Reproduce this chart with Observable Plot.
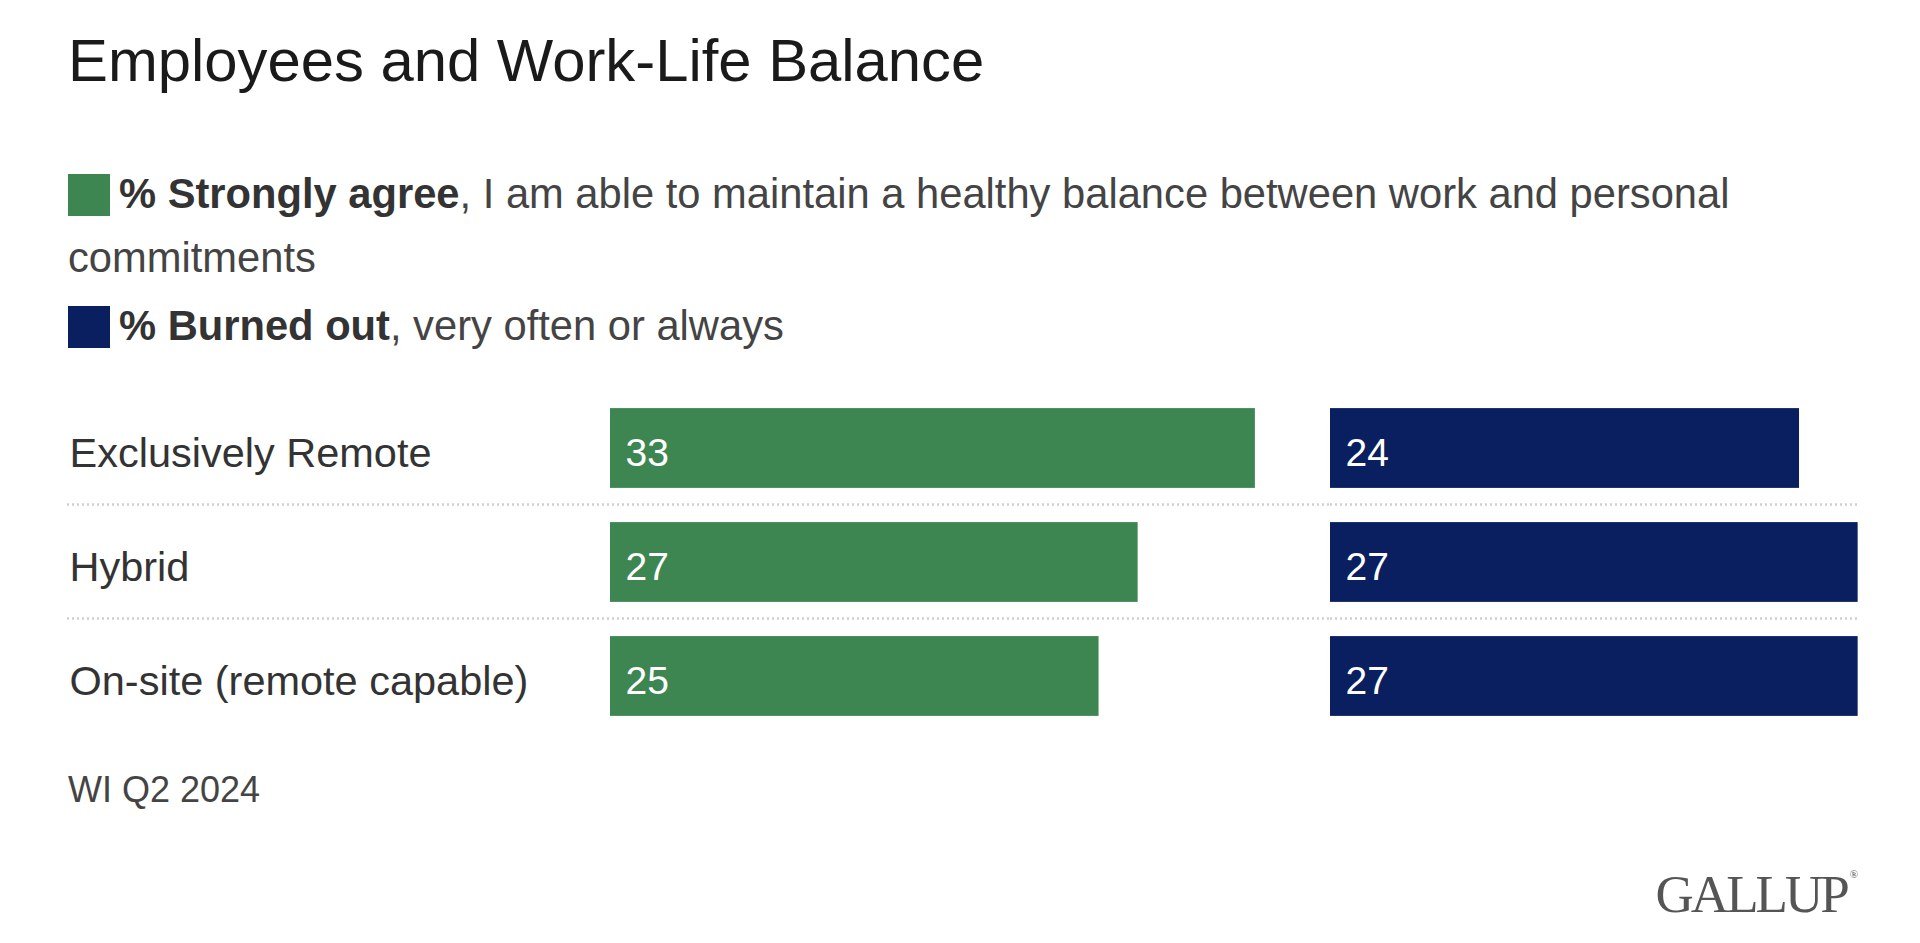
<!DOCTYPE html>
<html>
<head>
<meta charset="utf-8">
<script src="https://cdn.jsdelivr.net/npm/d3@7"></script>
<script src="https://cdn.jsdelivr.net/npm/@observablehq/plot@0.6"></script>
<style>
  html, body { margin: 0; padding: 0; background: #fff; }
  body { width: 1920px; height: 943px; position: relative; overflow: hidden;
         font-family: "Liberation Sans", Arial, Helvetica, sans-serif; }
  #title { position: absolute; left: 68px; top: 31px; font-size: 59.8px; line-height: 1;
           color: #1a1a1a; white-space: nowrap; }
  #legend { position: absolute; left: 68px; top: 162px; width: 1790px; font-size: 41.7px;
            color: #444; }
  .item { line-height: 64px; }
  .item + .item { margin-top: 4px; }
  .sw { display: inline-block; width: 42px; height: 42px; vertical-align: -8px; margin-right: 9px; }
  .item b { color: #333; font-weight: bold; }
  #chart { position: absolute; left: 0; top: 380px; display: flex; }
  #source { position: absolute; left: 68px; top: 772px; font-size: 36px; line-height: 1; color: #444; }
  #logo { position: absolute; right: 62px; top: 868px; font-family: "Liberation Serif", "Times New Roman", serif;
          font-size: 53px; line-height: 1; color: #555; letter-spacing: -3px; }
  #logo sup { font-size: 11px; letter-spacing: 0; vertical-align: 34px; margin-left: 3px; }
</style>
</head>
<body>
<div id="title"></div>
<div id="legend"></div>
<div id="chart"></div>
<div id="source"></div>
<div id="logo">GALLUP<sup>®</sup></div>
<script>
// ---- data ----
const titleText = "Employees and Work-Life Balance";
const categories = ["Exclusively Remote", "Hybrid", "On-site (remote capable)"];
const strongAgree = [33, 27, 25];
const burnedOut = [24, 27, 27];
const seriesNames = ["% Strongly agree", "% Burned out"];
const seriesNotes = [", I am able to maintain a healthy balance between work and personal commitments", ", very often or always"];
const seriesColors = ["#3e8651", "#0a1f60"];
const sourceText = "WI Q2 2024";

// ---- layout ----
const pxPerUnit = 19.543;
const labelLeft = 69;
const barsLeft = 610;
const panelGap = 75;
const plotHeight = 360, mTop = 11, mBottom = 7;
const padInner = 0.3, padOuter = 0.15;
const step = (plotHeight - mTop - mBottom) / (categories.length - padInner + 2 * padOuter);
const font = "'Liberation Sans', Arial, Helvetica, sans-serif";

document.getElementById("title").textContent = titleText;
document.getElementById("source").textContent = sourceText;

const legend = document.getElementById("legend");
seriesNames.forEach((name, i) => {
  const div = document.createElement("div");
  div.className = "item";
  const sw = document.createElement("span");
  sw.className = "sw";
  sw.style.background = seriesColors[i];
  const b = document.createElement("b");
  b.textContent = name;
  div.appendChild(sw);
  div.appendChild(b);
  div.appendChild(document.createTextNode(seriesNotes[i]));
  legend.appendChild(div);
});

const series = [strongAgree, burnedOut];
const chart = document.getElementById("chart");

series.forEach((vals, si) => {
  const data = categories.map((c, i) => ({category: c, value: vals[i]}));
  const maxV = d3.max(vals);
  const first = si === 0;
  const mLeft = first ? barsLeft : 0;
  const mRight = first ? panelGap : 0;
  const width = mLeft + maxV * pxPerUnit + mRight;
  const marks = [
    Plot.ruleY(categories.slice(1), {
      y: d => d, dy: -step / 2 - 1,
      stroke: "#cfcfcf", strokeWidth: 2.5, strokeDasharray: "2,3",
      insetLeft: first ? -(barsLeft - labelLeft + 2) : 0,
      insetRight: first ? -panelGap : 0
    }),
    Plot.barX(data, {x: "value", y: "category", fill: seriesColors[si]}),
    Plot.text(data, {
      x: 0, y: "category", text: d => String(d.value),
      textAnchor: "start", dx: 15, dy: 5, fill: "white", fontSize: 39
    })
  ];
  if (first) {
    marks.push(Plot.text(categories, {
      y: d => d, frameAnchor: "left", textAnchor: "start",
      dx: labelLeft - barsLeft, dy: 5, fill: "#333", fontSize: 41.5
    }));
  }
  const svg = Plot.plot({
    width, height: plotHeight,
    marginLeft: mLeft, marginRight: mRight, marginTop: mTop, marginBottom: mBottom,
    x: {domain: [0, maxV], axis: null},
    y: {domain: categories, axis: null, paddingInner: padInner, paddingOuter: padOuter, round: false},
    style: {fontFamily: font, background: "transparent", color: "#333", overflow: "visible"},
    marks
  });
  chart.appendChild(svg);
});
</script>
</body>
</html>
